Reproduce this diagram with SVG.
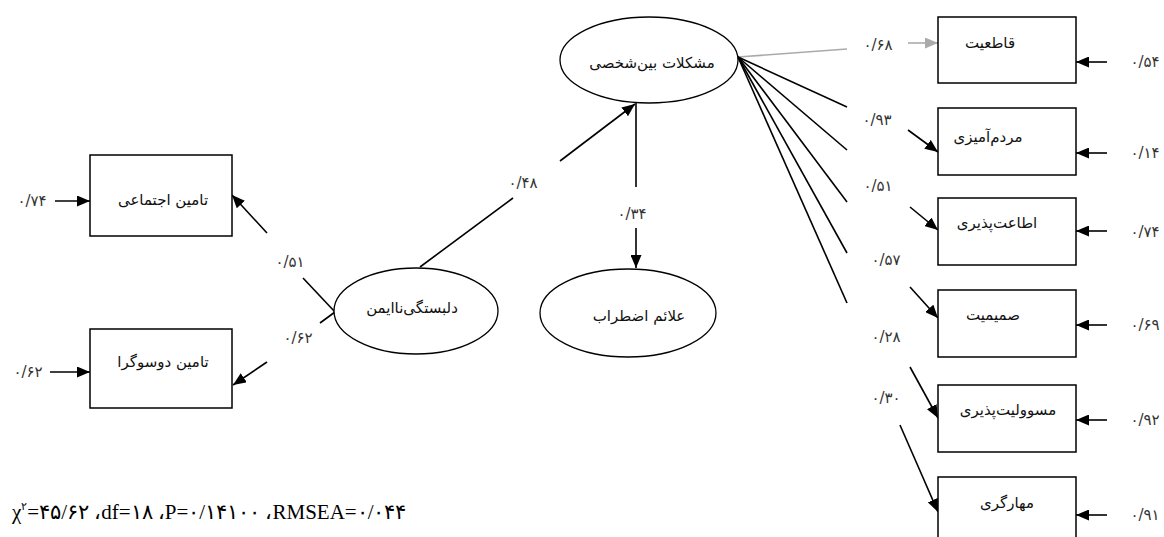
<svg xmlns="http://www.w3.org/2000/svg" width="1164" height="537" viewBox="0 0 1164 537">
<defs>
<marker id="ah" markerUnits="userSpaceOnUse" markerWidth="13" markerHeight="11" refX="13" refY="5.5" orient="auto"><path d="M0,0 L13,5.5 L0,11 z" fill="#000"/></marker>
<marker id="ahg" markerUnits="userSpaceOnUse" markerWidth="13" markerHeight="11" refX="13" refY="5.5" orient="auto"><path d="M0,0 L13,5.5 L0,11 z" fill="#aaa"/></marker>
<style>
.box{fill:#fff;stroke:#000;stroke-width:1.5}
.ell{fill:#fff;stroke:#000;stroke-width:1.3}
.fa{font-family:"DejaVu Sans","Noto Sans",sans-serif;font-size:15px;fill:#111;text-anchor:middle;dominant-baseline:central}
.num{font-family:"DejaVu Sans","Noto Sans",sans-serif;font-size:15px;fill:#333;text-anchor:middle;dominant-baseline:central;direction:ltr;unicode-bidi:bidi-override}
.ln{stroke:#000;stroke-width:1.6;fill:none}
.ar{stroke:#000;stroke-width:1.6;fill:none;marker-end:url(#ah)}
.gr{stroke:#aaa;stroke-width:1.6;fill:none}
.gar{stroke:#aaa;stroke-width:1.6;fill:none;marker-end:url(#ahg)}
</style>
</defs>
<rect width="1164" height="537" fill="#fff"/>
<g id="connectors">
<line class="ar" x1="55" y1="201" x2="90" y2="201"/>
<line class="ar" x1="50" y1="372" x2="90" y2="372"/>
<line class="ln" x1="335" y1="312" x2="303" y2="278"/>
<line class="ar" x1="267" y1="233" x2="232" y2="195"/>
<line class="ln" x1="335" y1="312" x2="320" y2="323"/>
<line class="ar" x1="267" y1="362" x2="233" y2="385"/>
<line class="ln" x1="420" y1="267" x2="513" y2="198"/>
<line class="ar" x1="560" y1="161" x2="635" y2="104"/>
<line class="ln" x1="636" y1="103" x2="636" y2="187"/>
<line class="ar" x1="636" y1="228" x2="636" y2="268"/>
<line class="gr" x1="738" y1="57" x2="847" y2="49"/>
<line class="ln" x1="738" y1="57" x2="847" y2="107"/>
<line class="ln" x1="738" y1="57" x2="847" y2="150"/>
<line class="ln" x1="738" y1="57" x2="847" y2="202"/>
<line class="ln" x1="738" y1="57" x2="847" y2="253"/>
<line class="ln" x1="738" y1="57" x2="847" y2="303"/>
<line class="gar" x1="908" y1="43" x2="938" y2="43"/>
<line class="ar" x1="908" y1="130" x2="938" y2="152"/>
<line class="ar" x1="910" y1="207" x2="938" y2="230"/>
<line class="ar" x1="910" y1="287" x2="938" y2="318"/>
<line class="ar" x1="910" y1="367" x2="938" y2="418"/>
<line class="ar" x1="900" y1="425" x2="938" y2="512"/>
<line class="ar" x1="1107" y1="62" x2="1076" y2="62"/>
<line class="ar" x1="1107" y1="153" x2="1076" y2="153"/>
<line class="ar" x1="1107" y1="231" x2="1076" y2="231"/>
<line class="ar" x1="1107" y1="325" x2="1076" y2="325"/>
<line class="ar" x1="1107" y1="420" x2="1076" y2="420"/>
<line class="ar" x1="1107" y1="515" x2="1076" y2="515"/>
<text class="num" x="32" y="201">۰/۷۴</text>
<text class="num" x="28" y="372">۰/۶۲</text>
<text class="num" x="290" y="262">۰/۵۱</text>
<text class="num" x="298" y="338">۰/۶۲</text>
<text class="num" x="523" y="183">۰/۴۸</text>
<text class="num" x="632" y="214">۰/۳۴</text>
<text class="num" x="878" y="45">۰/۶۸</text>
<text class="num" x="877" y="120">۰/۹۳</text>
<text class="num" x="878" y="186">۰/۵۱</text>
<text class="num" x="886" y="260">۰/۵۷</text>
<text class="num" x="886" y="337">۰/۲۸</text>
<text class="num" x="886" y="398">۰/۳۰</text>
<text class="num" x="1145" y="62">۰/۵۴</text>
<text class="num" x="1145" y="153">۰/۱۴</text>
<text class="num" x="1145" y="232">۰/۷۴</text>
<text class="num" x="1145" y="325">۰/۶۹</text>
<text class="num" x="1145" y="420">۰/۹۲</text>
<text class="num" x="1145" y="515">۰/۹۱</text>
</g>
<g id="n_tamin_ejtemai"><rect class="box" x="90" y="155" width="142" height="81"/><text class="fa" x="163" y="200">تامین اجتماعی</text></g>
<g id="n_tamin_dosogra"><rect class="box" x="90" y="329" width="142" height="79"/><text class="fa" x="163" y="362">تامین دوسوگرا</text></g>
<g id="n_delbastegi"><ellipse class="ell" cx="416" cy="311" rx="82" ry="43"/><text class="fa" x="412" y="308">دلبستگی‌ناایمن</text></g>
<g id="n_moshkelat"><ellipse class="ell" cx="649" cy="60" rx="89" ry="43"/><text class="fa" x="652" y="63">مشکلات بین‌شخصی</text></g>
<g id="n_alaem"><ellipse class="ell" cx="628" cy="313" rx="88" ry="44"/><text class="fa" x="639" y="316">علائم اضطراب</text></g>
<g id="n_ghateiat"><rect class="box" x="938" y="17" width="138" height="66"/><text class="fa" x="990" y="43">قاطعیت</text></g>
<g id="n_mardomamizi"><rect class="box" x="938" y="108" width="138" height="67"/><text class="fa" x="988" y="137">مردم‌آمیزی</text></g>
<g id="n_etaat"><rect class="box" x="938" y="198" width="138" height="67"/><text class="fa" x="997" y="223">اطاعت‌پذیری</text></g>
<g id="n_samimiat"><rect class="box" x="938" y="290" width="138" height="67"/><text class="fa" x="993" y="315">صمیمیت</text></g>
<g id="n_masooliat"><rect class="box" x="938" y="385" width="138" height="67"/><text class="fa" x="1008" y="410">مسوولیت‌پذیری</text></g>
<g id="n_mahargari"><rect class="box" x="938" y="477" width="138" height="67"/><text class="fa" x="1007" y="503">مهارگری</text></g>
<text x="12" y="519" font-family="Liberation Serif,serif" font-size="21" font-weight="normal" fill="#000" direction="ltr" unicode-bidi="bidi-override">χ<tspan font-size="11" dy="-9">۲</tspan><tspan dy="9">=۴۵/۶۲ ،df=۱۸ ،P=۰/۱۴۱۰۰ ،RMSEA=۰/۰۴۴</tspan></text>
</svg>
